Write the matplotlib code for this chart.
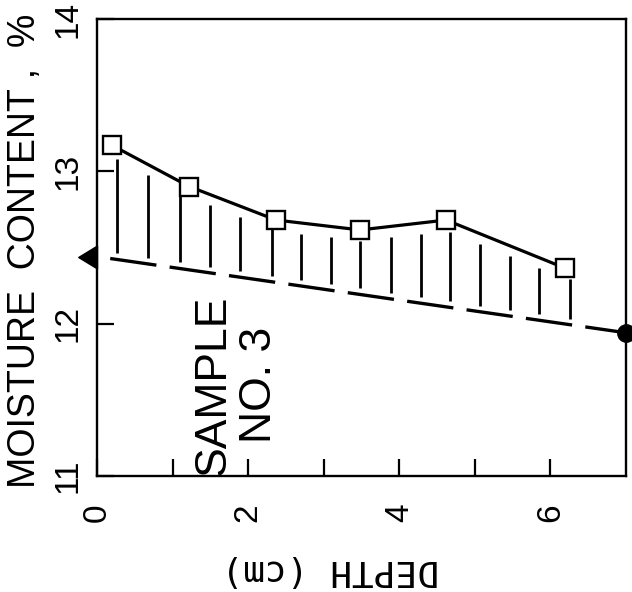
import matplotlib.pyplot as plt
import numpy as np

# measured moisture profile (squares) and the reference line (dashed)
depth = [0.20, 1.22, 2.37, 3.48, 4.62, 6.19]
moisture = [13.17, 12.90, 12.68, 12.615, 12.68, 12.365]

ref_depth = [0.0, 7.0]
ref_moisture = [12.44, 11.94]

# vertical hatching between the two curves
hatch_x = [0.265, 0.675, 1.10, 1.495, 1.89, 2.31, 2.70, 3.10,
           3.48, 3.89, 4.29, 4.67, 5.07, 5.46, 5.85, 6.26]

xticks = [0, 1, 2, 3, 4, 5, 6]
xtick_labels = ['0', '', '2', '', '4', '', '6']
yticks = [11, 12, 13, 14]
ytick_labels = ['11', '12', '13', '14']

plt.rcParams['font.family'] = ['Liberation Sans', 'DejaVu Sans']

fig = plt.figure(figsize=(6.32, 5.92), dpi=100)
ax = fig.add_axes([0.1535, 0.196, 0.837, 0.772])

# hatch lines stop a little short of both curves
hx = np.array(hatch_x)
top = np.interp(hx, depth, moisture) - 0.07
bottom = np.interp(hx, ref_depth, ref_moisture) + 0.04
ax.vlines(hx, bottom, top, color='black', lw=2.0, zorder=2)

ax.plot(ref_depth, ref_moisture, color='black', lw=2.4,
        linestyle=(14, (14, 4)), zorder=2)

ax.plot(depth, moisture, color='black', lw=2.3, marker='s', ms=13,
        mfc='white', mec='black', mew=1.7, zorder=3)

# end markers: triangle sits left of the y axis, dot on the right edge
tri = [(0, -1.1), (0, 1.1), (-1.8, 0), (0, -1.1)]
ax.plot(ref_depth[0], ref_moisture[0], marker=tri, ms=27, color='black',
        clip_on=False, zorder=4)
ax.plot(ref_depth[1], ref_moisture[1], marker='o', ms=12.5, color='black',
        clip_on=False, zorder=4)

ax.text(1.85, 11.60, 'SAMPLE\nNO. 3', rotation=90, ha='center', va='center',
        multialignment='center', fontsize=32, linespacing=1.15)

ax.set_xlim(0, 7)
ax.set_ylim(11, 14)
ax.set_xticks(xticks)
ax.set_xticklabels(xtick_labels, rotation=90, fontsize=24)
ax.set_yticks(yticks)
ax.set_yticklabels(ytick_labels, rotation=90, va='center', fontsize=24)
ax.tick_params(axis='both', direction='in', length=12, width=1.6)
ax.tick_params(axis='x', pad=20)
ax.tick_params(axis='y', pad=10)

for s in ax.spines.values():
    s.set_linewidth(1.7)

ax.set_ylabel('MOISTURE  CONTENT ,  %', fontsize=27, ha='center', va='center')
ax.yaxis.set_label_coords(-0.136, 0.492)
ax.set_xlabel('DEPTH (cm)', rotation=180, fontsize=26,
              family='DejaVu Sans Mono', ha='center', va='center')
ax.xaxis.set_label_coords(0.44, -0.206)

fig.savefig('out.png', dpi=100)
